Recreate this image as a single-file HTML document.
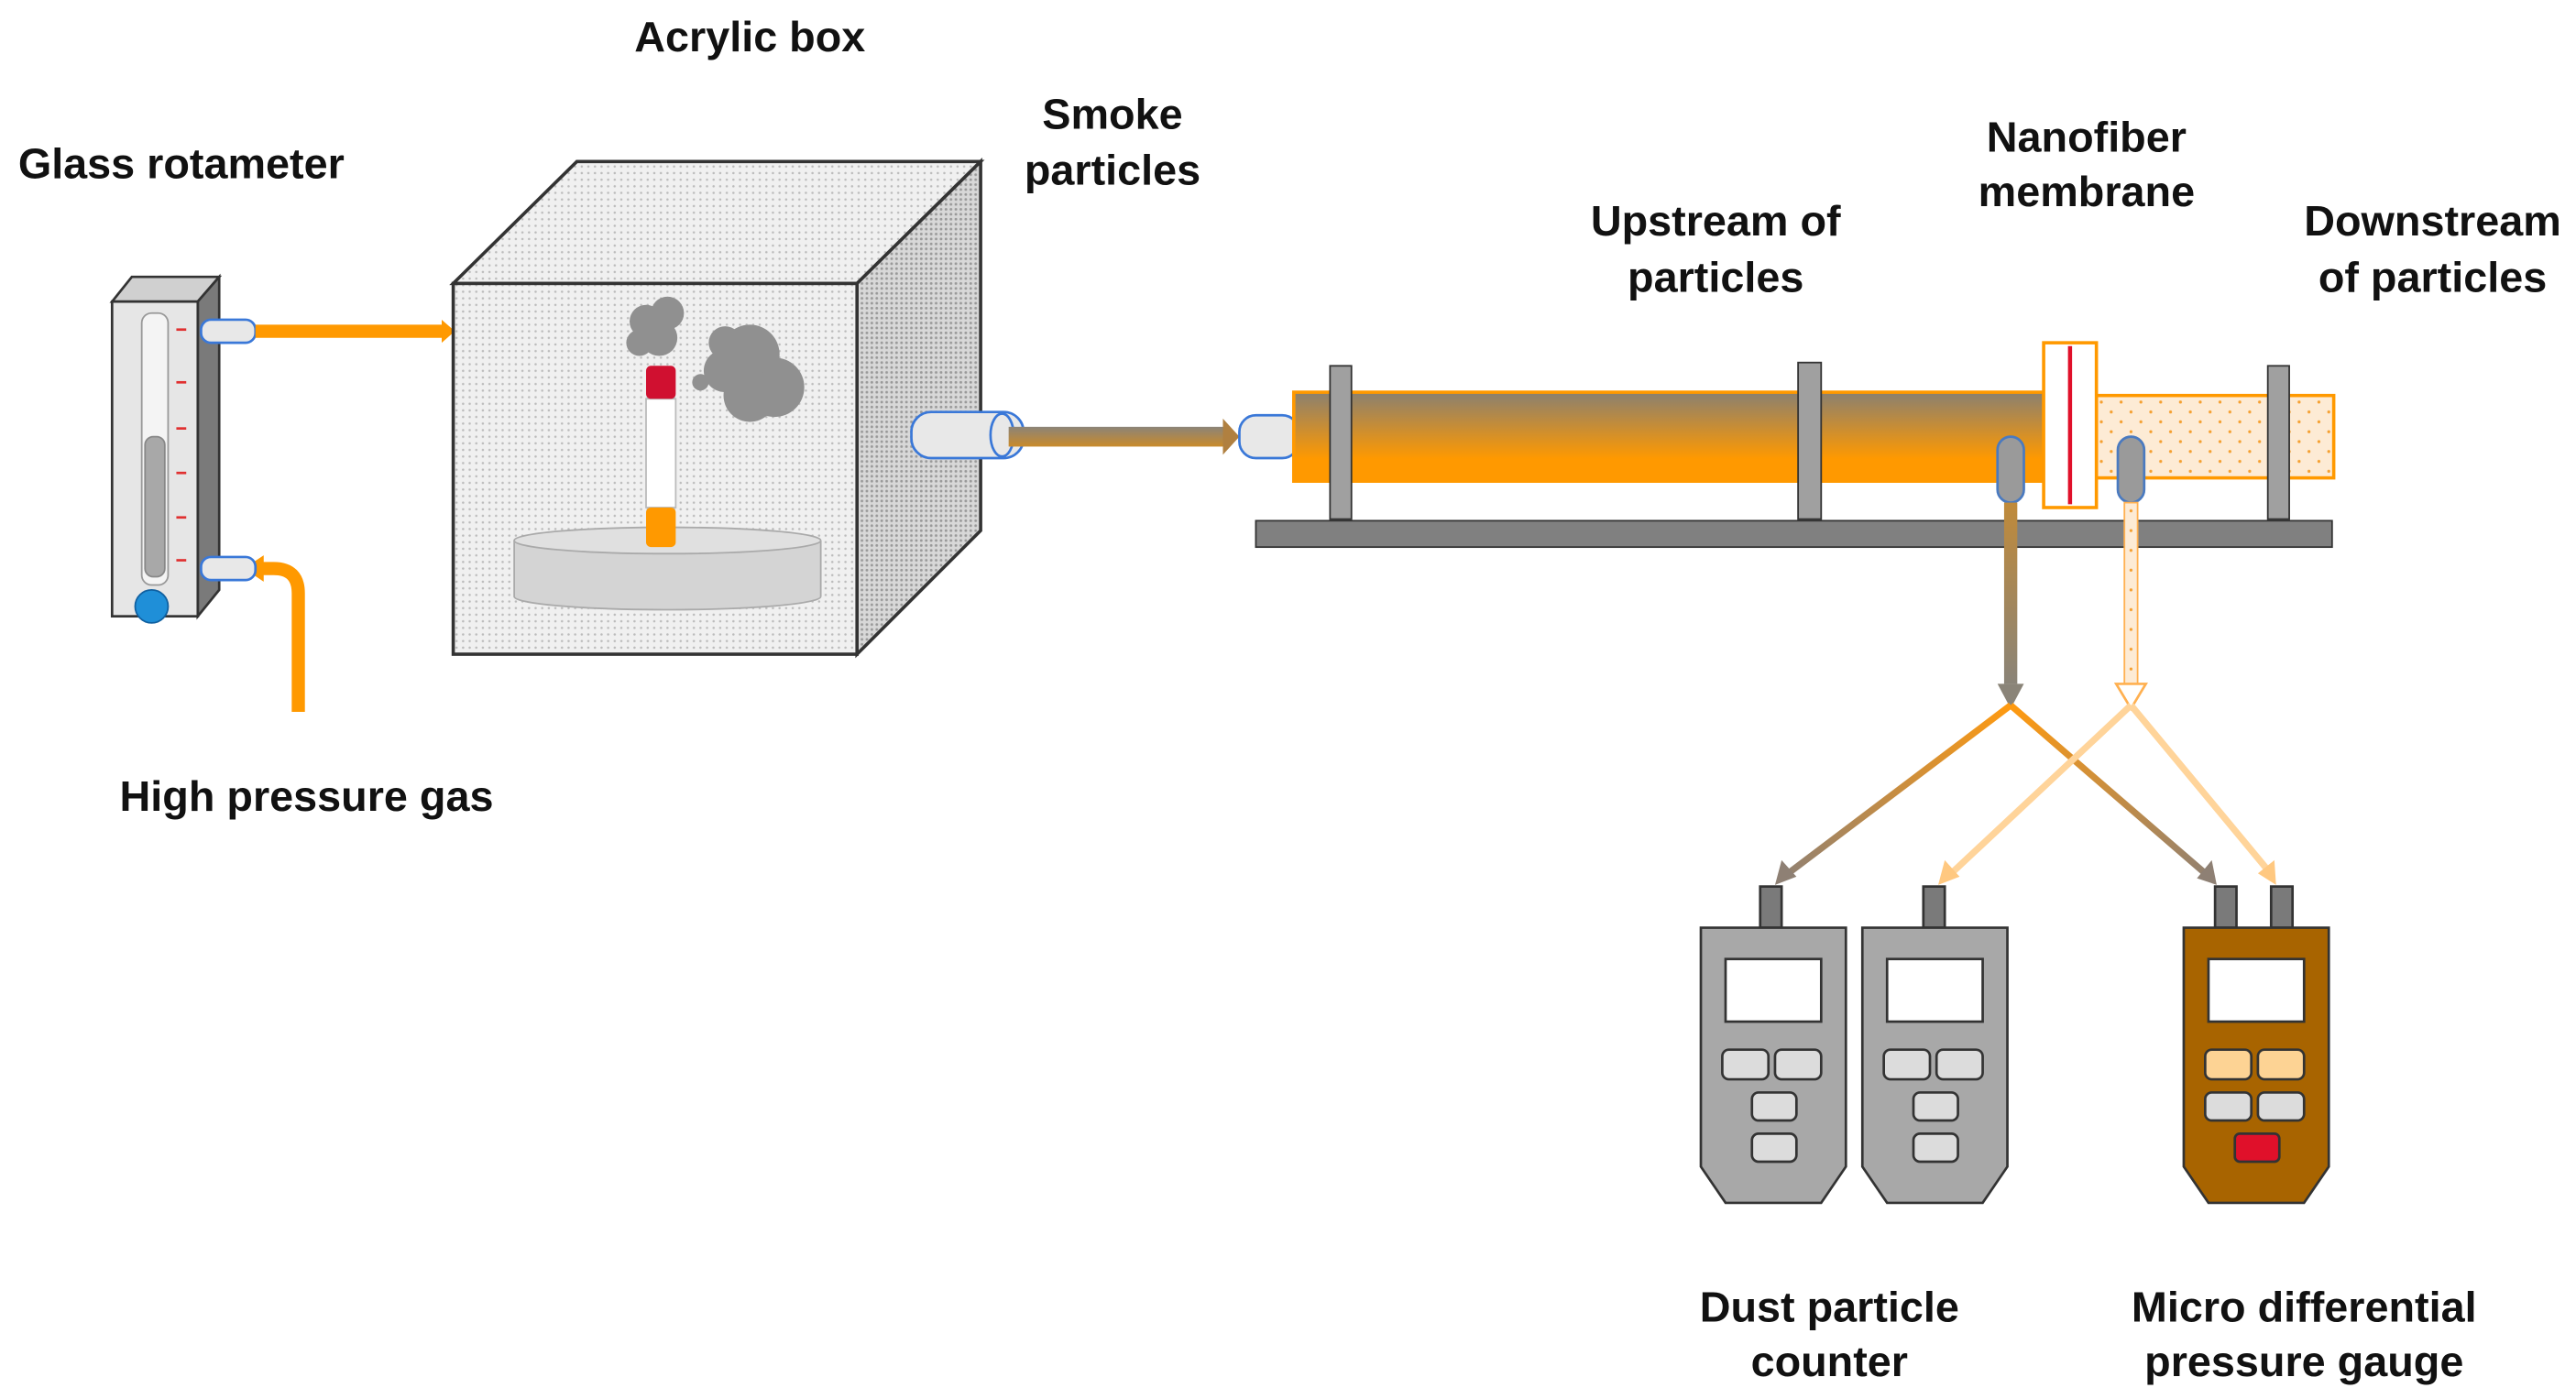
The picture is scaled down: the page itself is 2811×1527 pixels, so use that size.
<!DOCTYPE html>
<html><head><meta charset="utf-8"><style>html,body{margin:0;padding:0;background:#fff}svg{display:block}</style></head>
<body>
<svg width="2811" height="1527" viewBox="0 0 1563 849" xmlns="http://www.w3.org/2000/svg">
<defs>
<pattern id="dots" width="4" height="4" patternUnits="userSpaceOnUse"><rect width="4" height="4" fill="#f0f0f0"/><circle cx="1" cy="1" r="0.7" fill="#bbb"/></pattern>
<pattern id="dots2" width="3" height="3" patternUnits="userSpaceOnUse"><rect width="3" height="3" fill="#d8d8d8"/><circle cx="1" cy="1" r="0.8" fill="#999"/></pattern>
<pattern id="pdots" width="12" height="12" patternUnits="userSpaceOnUse"><rect width="12" height="12" fill="#fdebd5"/><circle cx="3" cy="4" r="0.9" fill="#f5a030"/><circle cx="9" cy="10" r="0.9" fill="#f5a030"/></pattern>
<linearGradient id="tubeg" x1="0" y1="0" x2="0" y2="1"><stop offset="0" stop-color="#8a8070"/><stop offset="0.75" stop-color="#ff9900"/><stop offset="1" stop-color="#ff9900"/></linearGradient>
<linearGradient id="arrg" x1="0" y1="0" x2="0" y2="1"><stop offset="0" stop-color="#8c8478"/><stop offset="1" stop-color="#c98a2a"/></linearGradient>
<linearGradient id="l1" x1="1220" y1="428" x2="1080" y2="535" gradientUnits="userSpaceOnUse"><stop offset="0" stop-color="#ff9a10"/><stop offset="1" stop-color="#8e8074"/></linearGradient>
<linearGradient id="l2" x1="1220" y1="428" x2="1343" y2="535" gradientUnits="userSpaceOnUse"><stop offset="0" stop-color="#ff9a10"/><stop offset="1" stop-color="#8e8074"/></linearGradient>
<linearGradient id="vd" x1="0" y1="0" x2="0" y2="1"><stop offset="0" stop-color="#c08a3a"/><stop offset="1" stop-color="#8a8478"/></linearGradient>
</defs>
<g font-family="'Liberation Sans',Arial,sans-serif" font-weight="bold" font-size="26" fill="#111" text-anchor="middle">
<text x="455" y="31">Acrylic box</text>
<text x="110" y="108">Glass rotameter</text>
<text x="675" y="78">Smoke</text><text x="675" y="112">particles</text>
<text x="1041" y="143">Upstream of</text><text x="1041" y="177">particles</text>
<text x="1266" y="92">Nanofiber</text><text x="1266" y="125">membrane</text>
<text x="1476" y="143">Downstream</text><text x="1476" y="177">of particles</text>
<text x="186" y="492">High pressure gas</text>
<text x="1110" y="802">Dust particle</text><text x="1110" y="835">counter</text>
<text x="1398" y="802">Micro differential</text><text x="1398" y="835">pressure gauge</text>
</g>
<polygon points="68,183 80,168 133,168 120,183" fill="#d0d0d0" stroke="#333" stroke-width="1.5"/>
<polygon points="120,183 133,168 133,358 120,374" fill="#7a7a7a" stroke="#333" stroke-width="1.5"/>
<rect x="68" y="183" width="52" height="191" fill="#e6e6e6" stroke="#333" stroke-width="1.5"/>
<rect x="86" y="190" width="16" height="165" rx="6" fill="#f4f4f4" stroke="#999"/>
<rect x="88" y="265" width="12" height="85" rx="5" fill="#a8a8a8" stroke="#888"/>
<g stroke="#e03030" stroke-width="1.5"><line x1="107" y1="200" x2="113" y2="200"/><line x1="107" y1="232" x2="113" y2="232"/><line x1="107" y1="260" x2="113" y2="260"/><line x1="107" y1="287" x2="113" y2="287"/><line x1="107" y1="314" x2="113" y2="314"/><line x1="107" y1="340" x2="113" y2="340"/></g>
<circle cx="92" cy="368" r="10" fill="#1f8fd8" stroke="#1060a0"/>
<path d="M181,432 V360 Q181,345 166,345 H150" fill="none" stroke="#ff9900" stroke-width="8"/>
<polygon points="148,345 160,337 160,353" fill="#ff9900"/>
<rect x="122" y="194" width="33" height="14" rx="6" fill="#e8e8e8" stroke="#3a78d8" stroke-width="1.5"/>
<rect x="122" y="338" width="33" height="14" rx="6" fill="#e8e8e8" stroke="#3a78d8" stroke-width="1.5"/>
<line x1="155" y1="201" x2="270" y2="201" stroke="#ff9900" stroke-width="8"/>
<polygon points="276,201 268,194 268,208" fill="#ff9900"/>
<polygon points="275,172 350,98 595,98 520,172" fill="url(#dots)" stroke="#333" stroke-width="2"/>
<polygon points="520,172 595,98 595,322 520,397" fill="url(#dots2)" stroke="#333" stroke-width="2"/>
<rect x="275" y="172" width="245" height="225" fill="url(#dots)" stroke="#333" stroke-width="2"/>
<g fill="#909090"><circle cx="392" cy="195" r="10"/><circle cx="405" cy="190" r="10"/><circle cx="400" cy="205" r="11"/><circle cx="388" cy="208" r="8"/><circle cx="455" cy="215" r="18"/><circle cx="440" cy="225" r="13"/><circle cx="470" cy="235" r="18"/><circle cx="455" cy="240" r="16"/><circle cx="440" cy="208" r="10"/><circle cx="425" cy="232" r="5"/></g>
<path d="M312,328 V362 A93,8 0 0 0 498,362 V328" fill="#d4d4d4" stroke="#aaa"/>
<ellipse cx="405" cy="328" rx="93" ry="8" fill="#e0e0e0" stroke="#aaa"/>
<rect x="392" y="242" width="18" height="66" fill="#fff" stroke="#bbb"/>
<rect x="392" y="222" width="18" height="20" rx="3" fill="#d01030"/>
<rect x="392" y="308" width="18" height="24" rx="3" fill="#ff9900"/>
<rect x="553" y="250" width="68" height="28" rx="12" fill="#e8e8e8" stroke="#3a78d8" stroke-width="1.5"/>
<ellipse cx="608" cy="264" rx="7" ry="13" fill="#e8e8e8" stroke="#3a78d8" stroke-width="1.5"/>
<rect x="612" y="259" width="134" height="12" fill="url(#arrg)"/>
<polygon points="752,265 742,254 742,276" fill="#b08040"/>
<rect x="752" y="252" width="36" height="26" rx="10" fill="#e8e8e8" stroke="#3a78d8" stroke-width="1.5"/>
<rect x="785" y="238" width="455" height="54" fill="url(#tubeg)" stroke="#ff9900" stroke-width="2"/>
<rect x="1272" y="240" width="144" height="50" fill="url(#pdots)" stroke="#ff9900" stroke-width="2"/>
<rect x="807" y="222" width="13" height="93" fill="#a0a0a0" stroke="#333"/>
<rect x="1091" y="220" width="14" height="95" fill="#a0a0a0" stroke="#333"/>
<rect x="1376" y="222" width="13" height="93" fill="#a0a0a0" stroke="#333"/>
<rect x="762" y="316" width="653" height="16" fill="#808080" stroke="#333"/>
<rect x="1240" y="208" width="32" height="100" fill="#fff" stroke="#ff9900" stroke-width="2"/>
<line x1="1256" y1="210" x2="1256" y2="306" stroke="#e0102a" stroke-width="2.5"/>
<rect x="1212" y="265" width="16" height="40" rx="8" fill="#9a9a9a" stroke="#4a7ac0" stroke-width="1.5"/>
<rect x="1285" y="265" width="16" height="40" rx="8" fill="#9a9a9a" stroke="#4a7ac0" stroke-width="1.5"/>
<rect x="1216" y="305" width="8" height="110" fill="url(#vd)"/>
<polygon points="1212,415 1228,415 1220,430" fill="#8a8478"/>
<rect x="1289" y="305" width="8" height="110" fill="url(#pdots)" stroke="#ffb050"/>
<polygon points="1284,415 1302,415 1293,430" fill="#fff" stroke="#ffb050" stroke-width="1.5"/>
<line x1="1220" y1="428" x2="1085" y2="530" stroke="url(#l1)" stroke-width="4"/>
<polygon points="1077,537 1081,522 1090,532" fill="#8e8074"/>
<line x1="1220" y1="428" x2="1338" y2="530" stroke="url(#l2)" stroke-width="4"/>
<polygon points="1345,537 1333,533 1342,522" fill="#8e8074"/>
<line x1="1293" y1="428" x2="1184" y2="530" stroke="#ffd49a" stroke-width="4"/>
<polygon points="1176,537 1180,522 1189,532" fill="#ffc880"/>
<line x1="1293" y1="428" x2="1376" y2="528" stroke="#ffd49a" stroke-width="4"/>
<polygon points="1381,537 1370,530 1380,522" fill="#ffc880"/>
<g stroke="#333" stroke-width="1.5">
<rect x="1068" y="538" width="13" height="25" fill="#7a7a7a"/>
<polygon points="1032,563 1120,563 1120,708 1105,730 1047,730 1032,708" fill="#a8a8a8"/>
<rect x="1047" y="582" width="58" height="38" fill="#fff"/>
<rect x="1045" y="637" width="28" height="18" rx="4" fill="#dcdcdc"/><rect x="1077" y="637" width="28" height="18" rx="4" fill="#dcdcdc"/>
<rect x="1063" y="663" width="27" height="17" rx="4" fill="#dcdcdc"/><rect x="1063" y="688" width="27" height="17" rx="4" fill="#dcdcdc"/>
<rect x="1167" y="538" width="13" height="25" fill="#7a7a7a"/>
<polygon points="1130,563 1218,563 1218,708 1203,730 1145,730 1130,708" fill="#a8a8a8"/>
<rect x="1145" y="582" width="58" height="38" fill="#fff"/>
<rect x="1143" y="637" width="28" height="18" rx="4" fill="#dcdcdc"/><rect x="1175" y="637" width="28" height="18" rx="4" fill="#dcdcdc"/>
<rect x="1161" y="663" width="27" height="17" rx="4" fill="#dcdcdc"/><rect x="1161" y="688" width="27" height="17" rx="4" fill="#dcdcdc"/>
<rect x="1344" y="538" width="13" height="25" fill="#7a7a7a"/><rect x="1378" y="538" width="13" height="25" fill="#7a7a7a"/>
<polygon points="1325,563 1413,563 1413,708 1398,730 1340,730 1325,708" fill="#a86400"/>
<rect x="1340" y="582" width="58" height="38" fill="#fff"/>
<rect x="1338" y="637" width="28" height="18" rx="4" fill="#fdd394"/><rect x="1370" y="637" width="28" height="18" rx="4" fill="#fdd394"/>
<rect x="1338" y="663" width="28" height="17" rx="4" fill="#dcdcdc"/><rect x="1370" y="663" width="28" height="17" rx="4" fill="#dcdcdc"/>
<rect x="1356" y="688" width="27" height="17" rx="3" fill="#e0102a"/>
</g>
</svg>
</body></html>
